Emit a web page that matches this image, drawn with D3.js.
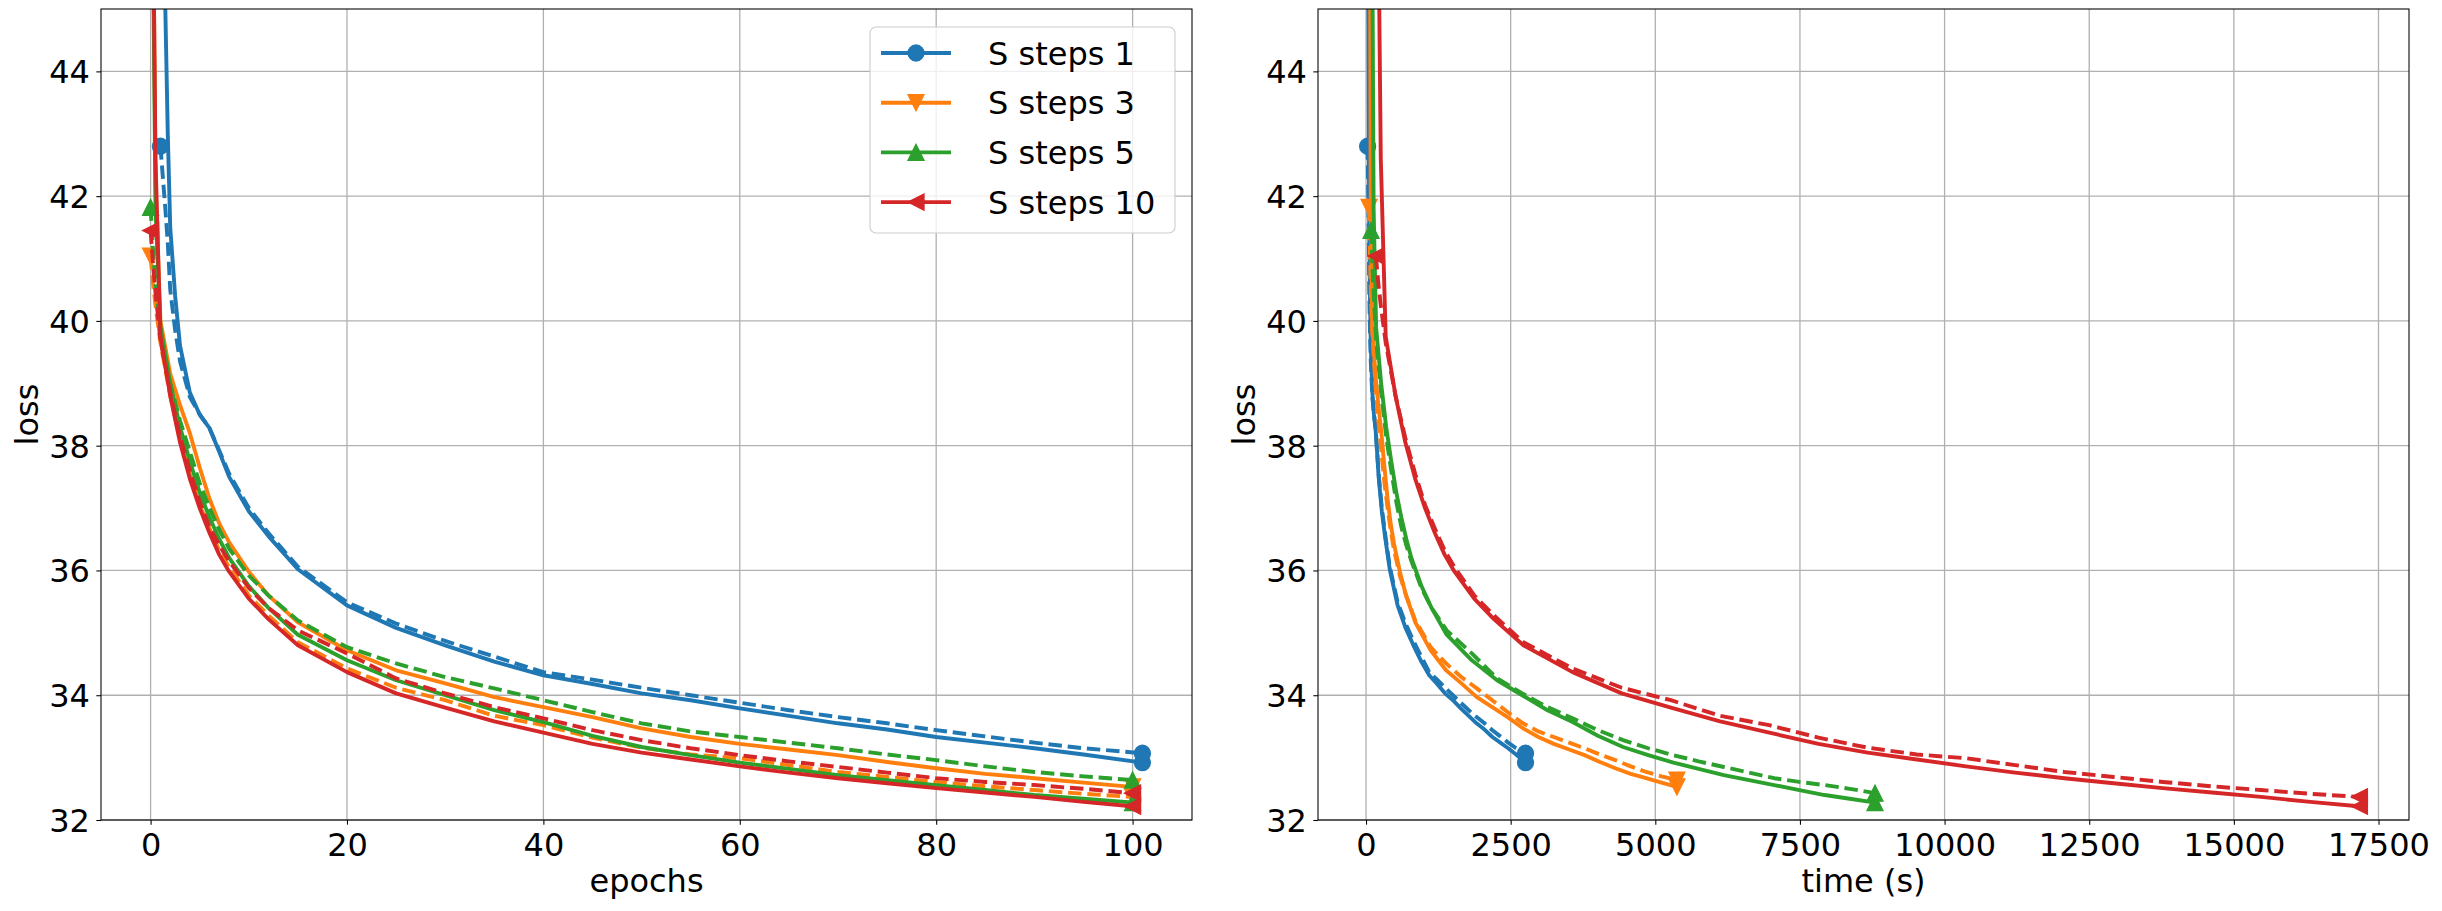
<!doctype html>
<html>
<head>
<meta charset="utf-8">
<title>loss vs epochs / time</title>
<script src="https://cdn.jsdelivr.net/npm/d3@7"></script>
<style>
  body { margin: 0; background: #fff; }
  text { font-family: 'DejaVu Sans', sans-serif; }
</style>
</head>
<body>
<div id="chart"></div>
<script>
  // legend entries and colours (matplotlib default cycle)
  var labels = ['S steps 1', 'S steps 3', 'S steps 5', 'S steps 10'];
  var colors = ['#1f77b4', '#ff7f0e', '#2ca02c', '#d62728'];
  var markers = ['circle', 'down', 'up', 'left'];

  // x values of the left panel
  var epochs = [0, 0.25, 0.5, 1, 2, 3, 4, 5, 6, 7, 8, 10, 12, 15, 20, 25, 30, 35, 40, 45, 50, 55, 60, 65, 70, 75, 80, 85, 90, 95, 100];
  var epochsBlue = [1, 1.5, 1.75, 2, 2.5, 3, 4, 5, 6, 7, 8, 10, 12, 15, 20, 25, 30, 35, 40, 45, 50, 55, 60, 65, 70, 75, 80, 85, 90, 95, 101];

  // x values of the right panel (seconds)
  var timeBlue = [27, 41, 48, 55, 68, 82, 109, 137, 164, 191, 218, 273, 328, 410, 546, 683, 819, 956, 1092, 1229, 1365, 1502, 1638, 1775, 1911, 2048, 2184, 2321, 2457, 2594, 2757];
  var timeOrange = [53, 67, 80, 106, 160, 213, 266, 319, 372, 426, 479, 585, 692, 851, 1117, 1383, 1649, 1915, 2181, 2447, 2713, 2979, 3245, 3511, 3777, 4043, 4309, 4575, 4841, 5107, 5373];
  var timeGreen = [87, 109, 131, 174, 261, 348, 436, 523, 610, 697, 784, 958, 1132, 1394, 1829, 2265, 2700, 3136, 3571, 4007, 4442, 4878, 5313, 5749, 6184, 6620, 7055, 7491, 7926, 8362, 8797];
  var timeRed = [170, 213, 255, 340, 510, 680, 850, 1020, 1190, 1360, 1530, 1870, 2210, 2720, 3570, 4420, 5270, 6120, 6970, 7820, 8670, 9520, 10370, 11220, 12070, 12920, 13770, 14620, 15470, 16320, 17170];

  // loss curves (solid and dashed per colour)
  var lossBlueSolid = [52, 45.0, 43.0, 41.5, 40.4, 39.6, 38.85, 38.5, 38.28, 37.9, 37.5, 36.95, 36.55, 36.02, 35.44, 35.08, 34.8, 34.54, 34.32, 34.18, 34.03, 33.92, 33.79, 33.67, 33.55, 33.45, 33.33, 33.24, 33.15, 33.05, 32.92];
  var lossBlueDash = [42.8, 41.8, 41.25, 40.5, 39.85, 39.35, 38.78, 38.5, 38.28, 37.92, 37.55, 37.0, 36.6, 36.06, 35.49, 35.15, 34.87, 34.62, 34.37, 34.25, 34.12, 34.0, 33.88, 33.76, 33.65, 33.55, 33.44, 33.34, 33.24, 33.15, 33.07];
  var lossOrangeSolid = [70, 47, 42.2, 40.0, 39.15, 38.65, 38.2, 37.65, 37.15, 36.75, 36.45, 35.98, 35.6, 35.17, 34.72, 34.4, 34.19, 33.97, 33.81, 33.65, 33.47, 33.33, 33.22, 33.13, 33.04, 32.93, 32.83, 32.74, 32.67, 32.6, 32.53];
  var lossOrangeDash = [41.04, 40.6, 40.25, 39.65, 38.8, 38.12, 37.55, 37.05, 36.67, 36.32, 36.05, 35.6, 35.28, 34.85, 34.43, 34.12, 33.92, 33.67, 33.52, 33.32, 33.16, 33.05, 32.99, 32.88, 32.77, 32.69, 32.61, 32.54, 32.48, 32.42, 32.37];
  var lossGreenSolid = [70, 46, 41.8, 39.9, 39.0, 38.3, 37.75, 37.25, 36.85, 36.5, 36.2, 35.75, 35.4, 34.97, 34.56, 34.24, 34.0, 33.76, 33.57, 33.35, 33.17, 33.04, 32.92, 32.82, 32.72, 32.64, 32.56, 32.48, 32.4, 32.34, 32.28];
  var lossGreenDash = [41.82, 41.1, 40.6, 39.85, 39.0, 38.4, 37.9, 37.4, 37.0, 36.65, 36.35, 35.92, 35.6, 35.2, 34.77, 34.51, 34.29, 34.11, 33.92, 33.73, 33.55, 33.42, 33.33, 33.24, 33.15, 33.05, 32.96, 32.86, 32.77, 32.7, 32.64];
  var lossRedSolid = [75, 46.5, 42.6, 39.75, 38.8, 38.05, 37.47, 37.0, 36.6, 36.25, 35.98, 35.55, 35.22, 34.8, 34.37, 34.03, 33.8, 33.58, 33.4, 33.22, 33.08, 32.97, 32.86, 32.76, 32.67, 32.59, 32.51, 32.44, 32.37, 32.29, 32.22];
  var lossRedDash = [41.45, 40.9, 40.45, 39.7, 38.85, 38.15, 37.6, 37.1, 36.7, 36.4, 36.15, 35.72, 35.4, 35.04, 34.67, 34.27, 34.03, 33.81, 33.63, 33.44, 33.28, 33.15, 33.04, 32.94, 32.85, 32.76, 32.67, 32.61, 32.56, 32.5, 32.43];

  var xTicksEpoch = [0, 20, 40, 60, 80, 100];
  var xTicksTime = [0, 2500, 5000, 7500, 10000, 12500, 15000, 17500];
  var yTicks = [32, 34, 36, 38, 40, 42, 44];
  var yLimits = [32, 45];

  var W = 2442, H = 911;
  var FONT = 32;
  var LW = 3.9;
  var MS = 16;
  var TICK = 4.67;

  // left panel
  var leftSeries = [
    {c: 0, x: epochsBlue, y: lossBlueSolid},
    {c: 0, x: epochsBlue, y: lossBlueDash, dash: true},
    {c: 1, x: epochs, y: lossOrangeSolid},
    {c: 1, x: epochs, y: lossOrangeDash, dash: true},
    {c: 2, x: epochs, y: lossGreenSolid},
    {c: 2, x: epochs, y: lossGreenDash, dash: true},
    {c: 3, x: epochs, y: lossRedSolid},
    {c: 3, x: epochs, y: lossRedDash, dash: true}
  ];
  // right panel: the dashed curves come out shifted one colour over in the picture
  var rightSeries = [
    {c: 0, x: timeBlue, y: lossBlueSolid},
    {c: 0, x: timeBlue, y: lossBlueDash, dash: true},
    {c: 1, x: timeOrange, y: lossOrangeSolid},
    {c: 1, x: timeOrange, y: lossGreenDash, dash: true},
    {c: 2, x: timeGreen, y: lossGreenSolid},
    {c: 2, x: timeGreen, y: lossRedDash, dash: true},
    {c: 3, x: timeRed, y: lossRedSolid},
    {c: 3, x: timeRed, y: lossOrangeDash, dash: true}
  ];

  var svg = d3.select('#chart')
      .append('svg')
      .attr('width', W)
      .attr('height', H)
      .style('display', 'block');
  svg.append('rect').attr('width', W).attr('height', H).attr('fill', '#fff');

  function markerPath(kind, s) {
    var h = s / 2;
    if (kind === 'down') return 'M0,' + h + 'L' + (-h) + ',' + (-h) + 'L' + h + ',' + (-h) + 'Z';
    if (kind === 'up') return 'M0,' + (-h) + 'L' + (-h) + ',' + h + 'L' + h + ',' + h + 'Z';
    if (kind === 'left') return 'M' + (-h) + ',0L' + h + ',' + (-h) + 'L' + h + ',' + h + 'Z';
    return d3.symbol(d3.symbolCircle, Math.PI * h * h)();
  }

  function drawMarker(g, kind, color, px, py) {
    g.append('path')
        .attr('d', markerPath(kind, MS))
        .attr('transform', 'translate(' + px + ',' + py + ')')
        .attr('fill', color)
        .attr('stroke', color)
        .attr('stroke-width', 1.3);
  }

  function drawPanel(p) {
    var allX = [];
    p.series.forEach(function(s) { allX = allX.concat(s.x); });
    var ext = d3.extent(allX);
    var pad = (ext[1] - ext[0]) * 0.05;

    var x = d3.scaleLinear().domain([ext[0] - pad, ext[1] + pad]).range([p.left, p.right]);
    var y = d3.scaleLinear().domain(yLimits).range([p.bottom, p.top]);

    var g = svg.append('g');
    var clipId = 'clip-' + p.name;
    g.append('clipPath').attr('id', clipId)
        .append('rect')
        .attr('x', p.left).attr('y', p.top)
        .attr('width', p.right - p.left).attr('height', p.bottom - p.top);

    // grid
    var grid = g.append('g').attr('stroke', '#b0b0b0').attr('stroke-width', 1.3);
    p.xTicks.forEach(function(t) {
      grid.append('line').attr('x1', x(t)).attr('x2', x(t)).attr('y1', p.top).attr('y2', p.bottom);
    });
    yTicks.forEach(function(t) {
      grid.append('line').attr('x1', p.left).attr('x2', p.right).attr('y1', y(t)).attr('y2', y(t));
    });

    // curves
    var line = d3.line()
        .x(function(d) { return x(d[0]); })
        .y(function(d) { return y(d[1]); });
    var plot = g.append('g').attr('clip-path', 'url(#' + clipId + ')');
    p.series.forEach(function(s) {
      var pts = s.x.map(function(v, i) { return [v, s.y[i]]; });
      plot.append('path')
          .attr('d', line(pts))
          .attr('fill', 'none')
          .attr('stroke', colors[s.c])
          .attr('stroke-width', LW)
          .attr('stroke-linejoin', 'round')
          .attr('stroke-linecap', s.dash ? 'butt' : 'square')
          .attr('stroke-dasharray', s.dash ? '13.5,5.8' : null);
      var first = pts[0], last = pts[pts.length - 1];
      drawMarker(plot, markers[s.c], colors[s.c], x(first[0]), y(first[1]));
      drawMarker(plot, markers[s.c], colors[s.c], x(last[0]), y(last[1]));
    });

    // axes
    var xAxis = d3.axisBottom(x).tickValues(p.xTicks).tickSize(TICK).tickPadding(8.6)
        .tickFormat(d3.format('d'));
    var xg = g.append('g')
        .attr('transform', 'translate(0,' + p.bottom + ')')
        .call(xAxis);
    var yAxis = d3.axisLeft(y).tickValues(yTicks).tickSize(TICK).tickPadding(6.5)
        .tickFormat(d3.format('d'));
    var yg = g.append('g')
        .attr('transform', 'translate(' + p.left + ',0)')
        .call(yAxis);
    [xg, yg].forEach(function(a) {
      a.select('.domain').remove();
      a.attr('font-size', null).attr('font-family', null);
      a.selectAll('line').attr('stroke', '#000').attr('stroke-width', 1.07);
      a.selectAll('text').attr('font-size', FONT + 'px').attr('fill', '#000');
    });
    yg.selectAll('text').attr('dy', '0.36em');

    g.append('rect')
        .attr('x', p.left).attr('y', p.top)
        .attr('width', p.right - p.left).attr('height', p.bottom - p.top)
        .attr('fill', 'none').attr('stroke', '#000').attr('stroke-width', 1.07);

    g.append('text')
        .attr('x', (p.left + p.right) / 2)
        .attr('y', 892)
        .attr('text-anchor', 'middle')
        .attr('font-size', FONT + 'px')
        .text(p.xLabel);
    g.append('text')
        .attr('transform', 'translate(' + (p.left - 63) + ',' + ((p.top + p.bottom) / 2) + ') rotate(-90)')
        .attr('text-anchor', 'middle')
        .attr('font-size', FONT + 'px')
        .text('loss');

    if (p.legend) {
      var lg = g.append('g');
      lg.append('rect')
          .attr('x', 870).attr('y', 27)
          .attr('width', 305).attr('height', 206)
          .attr('rx', 6).attr('ry', 6)
          .attr('fill', '#fff').attr('fill-opacity', 0.8)
          .attr('stroke', '#cccccc').attr('stroke-width', 1.07);
      labels.forEach(function(name, i) {
        var ry = 53 + i * 49.7;
        lg.append('line')
            .attr('x1', 881).attr('x2', 951).attr('y1', ry).attr('y2', ry)
            .attr('stroke', colors[i]).attr('stroke-width', LW);
        drawMarker(lg, markers[i], colors[i], 916, ry);
        lg.append('text')
            .attr('x', 988).attr('y', ry + 11.7)
            .attr('font-size', FONT + 'px')
            .text(name);
      });
    }
  }

  drawPanel({name: 'epochs', left: 101, right: 1192, top: 9, bottom: 820,
    series: leftSeries, xTicks: xTicksEpoch, xLabel: 'epochs', legend: true});
  drawPanel({name: 'time', left: 1318, right: 2409, top: 9, bottom: 820,
    series: rightSeries, xTicks: xTicksTime, xLabel: 'time (s)', legend: false});
</script>
</body>
</html>
